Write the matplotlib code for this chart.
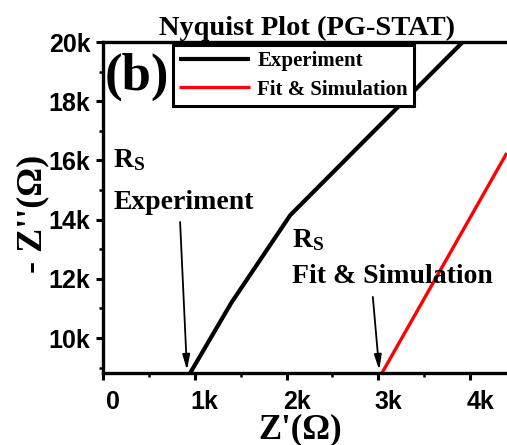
import matplotlib
matplotlib.use("Agg")
import matplotlib.pyplot as plt
from matplotlib.ticker import MultipleLocator, FuncFormatter
from matplotlib.transforms import ScaledTranslation

plt.rcParams['mathtext.fontset'] = 'custom'
plt.rcParams['mathtext.rm'] = 'Liberation Serif:bold'
plt.rcParams['mathtext.bf'] = 'Liberation Serif:bold'
plt.rcParams['mathtext.it'] = 'Liberation Serif:bold'

# Nyquist data (ohms)
exp_zre = [950, 1400, 2040, 3920]
exp_zim = [8820, 11200, 14150, 20000]
fit_zre = [3040, 4400]
fit_zim = [8820, 16250]

# Series resistance markers (arrow tips)
rs_exp = (915, 8920)
rs_fit = (3010, 8920)

x_ticks = [0, 1000, 2000, 3000, 4000]
y_ticks = [10000, 12000, 14000, 16000, 18000, 20000]

W, H = 507, 445
fig = plt.figure(figsize=(W / 100, H / 100), dpi=100)
ax = fig.add_axes([103 / W, 72 / H, 413 / W, 331 / H])

serif = 'Liberation Serif'
sans = 'Liberation Sans'

l1, = ax.plot(exp_zre, exp_zim, color='black', lw=3.0, label='Experiment', solid_capstyle='butt')
l2, = ax.plot(fit_zre, fit_zim, color='red', lw=2.4, label='Fit & Simulation', solid_capstyle='butt')

ax.set_xlim(0, 4500)
ax.set_ylim(8820, 20000)
ax.set_xticks(x_ticks)
ax.set_yticks(y_ticks)

fmt = FuncFormatter(lambda v, p: '0' if v == 0 else f'{int(round(v / 1000))}k')
ax.xaxis.set_minor_locator(MultipleLocator(500))
ax.yaxis.set_minor_locator(MultipleLocator(1000))
ax.xaxis.set_major_formatter(fmt)
ax.yaxis.set_major_formatter(fmt)

for s in ax.spines.values():
    s.set_linewidth(2.4)
ax.tick_params(which='major', direction='out', length=5, width=2.2, labelsize=18)
ax.tick_params(which='minor', direction='out', length=3, width=1.8)
ax.tick_params(axis='x', which='major', pad=7)
ax.tick_params(axis='y', which='major', pad=4)
for lab in ax.get_xticklabels() + ax.get_yticklabels():
    lab.set_fontfamily(sans)
    lab.set_fontweight('bold')
shift = ScaledTranslation(10 / 100, 0, fig.dpi_scale_trans)
for lab in ax.get_xticklabels():
    lab.set_transform(lab.get_transform() + shift)

ax.set_title('Nyquist Plot (PG-STAT)', fontfamily=serif, fontweight='bold',
             fontsize=20.5, pad=5, x=0.495)

fig.text(300 / W, 1 - 430 / H, "Z'(Ω)", fontfamily=serif, fontweight='bold',
         fontsize=25, ha='center', va='center')
fig.text(33 / W, 1 - 214 / H, "- Z''(Ω)", fontfamily=serif, fontweight='bold',
         fontsize=26, ha='center', va='center', rotation=90)

ax.text(0.003, 0.855, '(b)', transform=ax.transAxes, fontfamily=serif,
        fontweight='bold', fontsize=38, ha='left', va='baseline')

leg = ax.legend(handles=[l1, l2], loc='upper left', bbox_to_anchor=(70 / 413, 1 - 3 / 331),
                prop={'family': serif, 'weight': 'bold', 'size': 15},
                frameon=True, fancybox=False, edgecolor='black', framealpha=1,
                handlelength=3.4, handletextpad=0.35, borderpad=0.3,
                labelspacing=0.4, borderaxespad=0)
leg.get_frame().set_linewidth(2.2)

txt = dict(fontfamily=serif, fontweight='bold', fontsize=20, ha='left', va='baseline')
ax.text(110, 15780, r'$\mathbf{R_S}$', **txt)
ax.text(110, 14360, 'Experiment', **txt)
ax.text(2060, 13070, r'$\mathbf{R_S}$', **txt)
ax.text(2060, 11860, 'Fit & Simulation', **txt)

arrow = dict(arrowstyle='-|>,head_length=0.9,head_width=0.22', color='black', lw=1.3,
             shrinkA=0, shrinkB=0)
ax.annotate('', xy=rs_exp, xytext=(840, 13920), arrowprops=arrow)
ax.annotate('', xy=rs_fit, xytext=(2940, 11390), arrowprops=arrow)

fig.savefig('out.png', dpi=100)
